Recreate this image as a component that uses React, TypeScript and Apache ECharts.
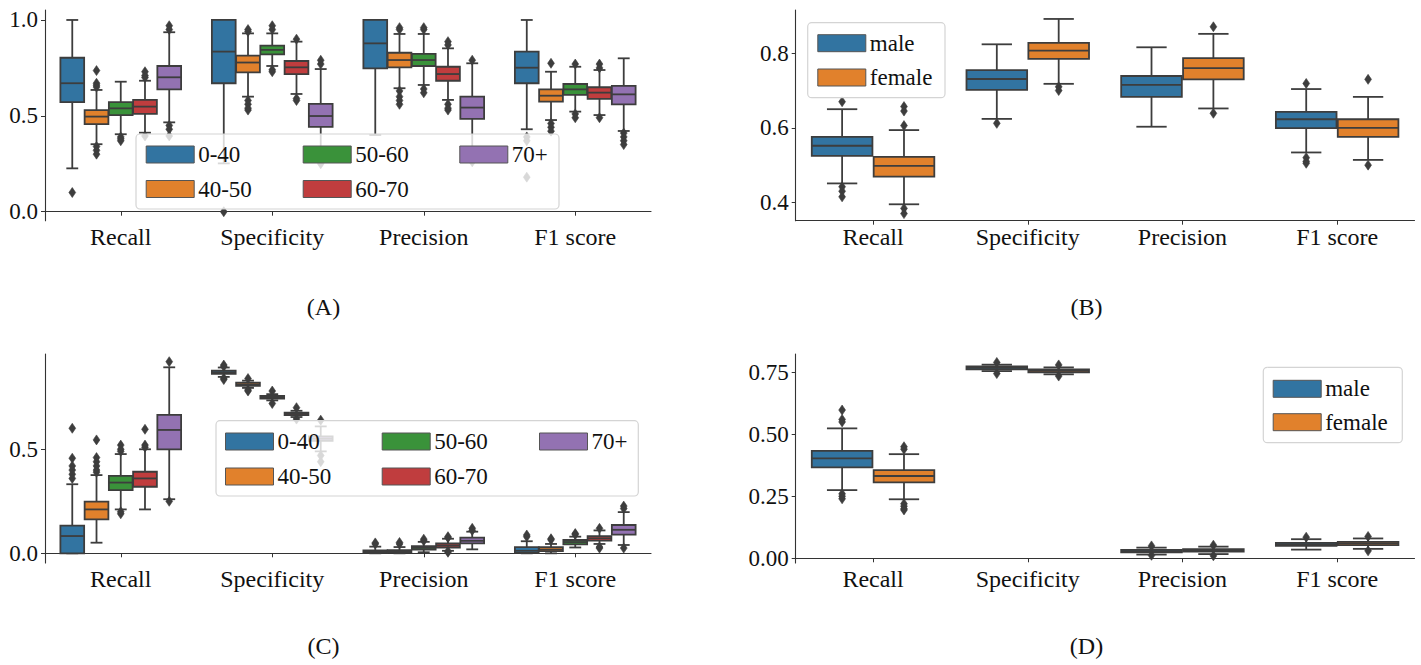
import React, { useEffect, useRef } from "react";
import * as echarts from "echarts";

const CATS = ["Recall", "Specificity", "Precision", "F1 score"];
const AGE = ["0-40", "40-50", "50-60", "60-70", "70+"];
const SEX = ["male", "female"];
const AGE_COLORS = ["#3274a1", "#e1812c", "#3a923a", "#c03d3e", "#9372b2"];
const SEX_COLORS = ["#3274a1", "#e1812c"];

// stats per category: [whiskerLow, q1, median, q3, whiskerHigh]
// Panel A (age groups)
const A_040 = [[0.226, 0.572, 0.67, 0.803, 1.0], [0.252, 0.67, 0.835, 1.0, 1.0], [0.4, 0.748, 0.878, 1.0, 1.0], [0.43, 0.67, 0.751, 0.835, 1.0]];
const A_040_OUT = [[0.1], [0.0], [], [0.39, 0.37, 0.18]];
const A_4050 = [[0.352, 0.457, 0.496, 0.53, 0.635], [0.6, 0.727, 0.778, 0.814, 0.93], [0.644, 0.753, 0.791, 0.829, 0.927], [0.478, 0.574, 0.605, 0.638, 0.73]];
const A_4050_OUT = [[0.736, 0.67, 0.66, 0.65, 0.34, 0.32, 0.3], [0.95, 0.94, 0.58, 0.56, 0.54, 0.53], [0.96, 0.95, 0.63, 0.6, 0.58, 0.56], [0.774, 0.46, 0.44, 0.42]];
const A_5060 = [[0.404, 0.504, 0.539, 0.571, 0.678], [0.76, 0.821, 0.844, 0.866, 0.93], [0.661, 0.76, 0.791, 0.823, 0.927], [0.522, 0.609, 0.638, 0.666, 0.756]];
const A_5060_OUT = [[0.39, 0.38, 0.37], [0.97, 0.95, 0.74, 0.73], [0.96, 0.95, 0.64, 0.62], [0.77, 0.51, 0.49]];
const A_6070 = [[0.412, 0.51, 0.548, 0.583, 0.683], [0.614, 0.718, 0.753, 0.786, 0.887], [0.583, 0.683, 0.718, 0.756, 0.852], [0.504, 0.588, 0.621, 0.649, 0.739]];
const A_6070_OUT = [[0.73, 0.71, 0.7, 0.395], [0.9, 0.59, 0.58], [0.887, 0.87, 0.56, 0.54, 0.53], [0.77, 0.75, 0.49]];
const A_70 = [[0.466, 0.638, 0.701, 0.76, 0.936], [0.29, 0.442, 0.499, 0.562, 0.744], [0.33, 0.484, 0.543, 0.6, 0.774], [0.421, 0.56, 0.612, 0.656, 0.8]];
const A_70_OUT = [[0.97, 0.95, 0.45, 0.43, 0.395], [0.79, 0.77, 0.26, 0.25], [0.79, 0.26], [0.41, 0.39, 0.37, 0.35]];

// Panel B (sex)
const B_M = [[0.451, 0.525, 0.552, 0.576, 0.65], [0.624, 0.702, 0.731, 0.755, 0.824], [0.603, 0.683, 0.715, 0.739, 0.816], [0.534, 0.599, 0.623, 0.643, 0.704]];
const B_M_OUT = [[0.67, 0.442, 0.43, 0.415], [0.612], [], [0.719, 0.52, 0.51, 0.505]];
const B_F = [[0.395, 0.469, 0.498, 0.522, 0.594], [0.718, 0.785, 0.807, 0.828, 0.892], [0.652, 0.73, 0.76, 0.787, 0.852], [0.514, 0.576, 0.6, 0.623, 0.683]];
const B_F_OUT = [[0.657, 0.645, 0.606, 0.384, 0.37], [0.71, 0.7], [0.871, 0.639], [0.73, 0.5]];

// Panel C (age groups)
const C_040 = [[0.0, 0.0, 0.083, 0.133, 0.332], [0.848, 0.862, 0.87, 0.878, 0.893], [0.0, 0.003, 0.008, 0.014, 0.032], [0.0, 0.002, 0.012, 0.03, 0.058]];
const C_040_OUT = [[0.601, 0.457, 0.42, 0.4, 0.38, 0.36], [0.905, 0.898, 0.842, 0.835], [0.045, 0.05], [0.088, 0.08]];
const C_4050 = [[0.051, 0.163, 0.211, 0.248, 0.376], [0.795, 0.805, 0.812, 0.82, 0.83], [0.0, 0.004, 0.009, 0.015, 0.03], [0.0, 0.01, 0.018, 0.03, 0.045]];
const C_4050_OUT = [[0.545, 0.46, 0.44, 0.42, 0.4, 0.39], [0.84, 0.785, 0.78], [0.045, 0.052], [0.065, 0.07]];
const C_5060 = [[0.211, 0.304, 0.34, 0.372, 0.477], [0.735, 0.744, 0.75, 0.756, 0.765], [0.005, 0.018, 0.026, 0.034, 0.055], [0.028, 0.043, 0.054, 0.064, 0.08]];
const C_5060_OUT = [[0.52, 0.5, 0.49, 0.2, 0.19], [0.78, 0.72], [0.06, 0.068], [0.095, 0.09]];
const C_6070 = [[0.211, 0.32, 0.36, 0.392, 0.5], [0.655, 0.664, 0.67, 0.676, 0.685], [0.012, 0.028, 0.038, 0.048, 0.07], [0.045, 0.061, 0.072, 0.083, 0.11]];
const C_6070_OUT = [[0.596, 0.52, 0.51], [0.7, 0.645], [0.075, 0.08, 0.005, 0.01], [0.12, 0.025, 0.03]];
const C_70 = [[0.26, 0.5, 0.593, 0.665, 0.894], [0.49, 0.54, 0.551, 0.562, 0.61], [0.019, 0.048, 0.06, 0.075, 0.104], [0.04, 0.09, 0.113, 0.136, 0.198]];
const C_70_OUT = [[0.921, 0.25], [0.64, 0.47, 0.44], [0.12, 0.11], [0.227, 0.215, 0.025]];

// Panel D (sex)
const D_M = [[0.275, 0.367, 0.403, 0.433, 0.524], [0.755, 0.762, 0.768, 0.774, 0.781], [0.015, 0.024, 0.029, 0.034, 0.043], [0.035, 0.05, 0.056, 0.062, 0.077]];
const D_M_OUT = [[0.598, 0.56, 0.55, 0.26, 0.25, 0.24], [0.79, 0.745], [0.05, 0.012], [0.085]];
const D_F = [[0.238, 0.306, 0.332, 0.356, 0.42], [0.742, 0.75, 0.756, 0.762, 0.77], [0.017, 0.027, 0.032, 0.037, 0.047], [0.038, 0.053, 0.06, 0.066, 0.08]];
const D_F_OUT = [[0.45, 0.44, 0.22, 0.21, 0.2, 0.195], [0.78, 0.735], [0.053, 0.01], [0.088, 0.03]];

const A_TICKS = [0, 0.5, 1.0];
const B_TICKS = [0.4, 0.6, 0.8];
const C_TICKS = [0, 0.5];
const D_TICKS = [0, 0.25, 0.5, 0.75];

const FONT = "Liberation Serif";
const LC = "#3d3d3d";
const LW = 1.8;

function boxSeries(name: string, color: string, stats: number[][], outs: number[][], hue: number, nHue: number, gi: number) {
  return {
    type: "custom",
    name,
    xAxisIndex: gi,
    yAxisIndex: gi,
    itemStyle: { color },
    data: stats.map((s, i) => [i, ...s]),
    encode: { x: 0, y: [1, 2, 3, 4, 5] },
    renderItem: (params: any, api: any) => {
      const ci = api.value(0) as number;
      const band = api.size([1, 0])[0];
      const total = band * 0.8;
      const w = total / nHue;
      const c0 = api.coord([ci, 0])[0];
      const cx = c0 - total / 2 + w * (hue + 0.5);
      const bw = w * 0.98;
      const s = stats[ci];
      const Y = (v: number) => api.coord([ci, v])[1];
      const ls = { stroke: LC, lineWidth: LW };
      const children: any[] = [];
      children.push({ type: "line", shape: { x1: cx, y1: Y(s[3]), x2: cx, y2: Y(s[4]) }, style: ls });
      children.push({ type: "line", shape: { x1: cx, y1: Y(s[1]), x2: cx, y2: Y(s[0]) }, style: ls });
      children.push({ type: "line", shape: { x1: cx - bw / 4, y1: Y(s[4]), x2: cx + bw / 4, y2: Y(s[4]) }, style: ls });
      children.push({ type: "line", shape: { x1: cx - bw / 4, y1: Y(s[0]), x2: cx + bw / 4, y2: Y(s[0]) }, style: ls });
      children.push({
        type: "rect",
        shape: { x: cx - bw / 2, y: Y(s[3]), width: bw, height: Y(s[1]) - Y(s[3]) },
        style: { fill: color, stroke: LC, lineWidth: LW },
      });
      children.push({ type: "line", shape: { x1: cx - bw / 2, y1: Y(s[2]), x2: cx + bw / 2, y2: Y(s[2]) }, style: ls });
      for (const o of outs[ci]) {
        const oy = Y(o);
        children.push({
          type: "polygon",
          shape: { points: [[cx, oy - 5], [cx + 3.4, oy], [cx, oy + 5], [cx - 3.4, oy]] },
          style: { fill: LC, stroke: LC, lineWidth: 0.6 },
        });
      }
      return { type: "group", children };
    },
  };
}

const GRIDS = [
  { left: 45, top: 10, width: 606, height: 210.7 },
  { left: 795.7, top: 10, width: 618.8, height: 210.7 },
  { left: 45, top: 354, width: 606, height: 209 },
  { left: 795.7, top: 354, width: 618.8, height: 209 },
];
const Y_RANGE = [
  [-0.047, 1.052],
  [0.351, 0.916],
  [-0.0466, 0.958],
  [-0.019, 0.824],
];
const Y_TICKS = [A_TICKS, B_TICKS, C_TICKS, D_TICKS];
const Y_DEC = [1, 1, 1, 2];

function legendItem(name: string, left: number, top: number) {
  return {
    data: [{ name, icon: "rect" }],
    left,
    top,
    orient: "horizontal",
    padding: 0,
    itemGap: 0,
    itemWidth: 48,
    itemHeight: 17,
    selectedMode: false,
    z: 10,
    itemStyle: { borderColor: "#555", borderWidth: 1 },
    textStyle: { fontFamily: FONT, fontSize: 23, color: "#111", lineHeight: 17, padding: [0, 0, 0, -1] },
  };
}

function frame(x: number, y: number, w: number, h: number) {
  return {
    type: "rect",
    z: 3,
    shape: { x, y, width: w, height: h, r: 4 },
    style: { fill: "rgba(255,255,255,0.8)", stroke: "#d4d4d4", lineWidth: 1.2 },
  };
}

function subtitle(t: string, x: number, y: number) {
  return {
    type: "text",
    z: 3,
    x,
    y,
    style: { text: t, fill: "#111", fontFamily: FONT, fontSize: 24, align: "center", verticalAlign: "middle", textAlign: "center", textVerticalAlign: "middle" },
  };
}

export default function App() {
  const ref = useRef<HTMLDivElement>(null);
  useEffect(() => {
    if (!ref.current) return;
    const chart = echarts.init(ref.current, undefined, { renderer: "svg" });
    const axisLine = { show: true, lineStyle: { color: "#333", width: 1.1 } };
    const xAxis = GRIDS.map((_, i) => ({
      type: "category",
      gridIndex: i,
      data: CATS,
      axisLine,
      axisTick: { show: true, alignWithLabel: true, length: 4, lineStyle: { color: "#333", width: 1 } },
      axisLabel: { interval: 0, fontFamily: FONT, fontSize: 24, color: "#111", margin: 4 },
      splitLine: { show: false },
    }));
    const yAxis = GRIDS.map((_, i) => ({
      type: "value",
      gridIndex: i,
      min: Y_RANGE[i][0],
      max: Y_RANGE[i][1],
      axisLine,
      splitLine: { show: false },
      axisTick: { show: true, length: 4, customValues: Y_TICKS[i], lineStyle: { color: "#333", width: 1 } },
      axisLabel: {
        customValues: Y_TICKS[i],
        fontFamily: FONT,
        fontSize: 23,
        color: "#111",
        margin: 7,
        formatter: (v: number) => v.toFixed(Y_DEC[i]),
      },
    }));
    const series: any[] = [];
    const aStats = [A_040, A_4050, A_5060, A_6070, A_70];
    const aOuts = [A_040_OUT, A_4050_OUT, A_5060_OUT, A_6070_OUT, A_70_OUT];
    const cStats = [C_040, C_4050, C_5060, C_6070, C_70];
    const cOuts = [C_040_OUT, C_4050_OUT, C_5060_OUT, C_6070_OUT, C_70_OUT];
    AGE.forEach((n, h) => series.push(boxSeries(n, AGE_COLORS[h], aStats[h], aOuts[h], h, 5, 0)));
    AGE.forEach((n, h) => series.push(boxSeries(n, AGE_COLORS[h], cStats[h], cOuts[h], h, 5, 2)));
    const bStats = [B_M, B_F];
    const bOuts = [B_M_OUT, B_F_OUT];
    const dStats = [D_M, D_F];
    const dOuts = [D_M_OUT, D_F_OUT];
    SEX.forEach((n, h) => series.push(boxSeries(n, SEX_COLORS[h], bStats[h], bOuts[h], h, 2, 1)));
    SEX.forEach((n, h) => series.push(boxSeries(n, SEX_COLORS[h], dStats[h], dOuts[h], h, 2, 3)));

    const legend = [
      legendItem("0-40", 145.7, 143),
      legendItem("40-50", 145.7, 177.5),
      legendItem("50-60", 302.7, 143),
      legendItem("60-70", 302.7, 177.5),
      legendItem("70+", 459.3, 143),
      legendItem("male", 817.3, 31.7),
      legendItem("female", 817.3, 66),
      legendItem("0-40", 225, 430),
      legendItem("40-50", 225, 465),
      legendItem("50-60", 381.7, 430),
      legendItem("60-70", 381.7, 465),
      legendItem("70+", 539, 430),
      legendItem("male", 1272.7, 377.3),
      legendItem("female", 1272.7, 410.7),
    ];

    chart.setOption({
      animation: false,
      backgroundColor: "#ffffff",
      textStyle: { fontFamily: FONT },
      grid: GRIDS.map((g) => ({ ...g, containLabel: false })),
      xAxis,
      yAxis,
      series,
      legend,
      graphic: {
        elements: [
          frame(136, 134, 423, 75),
          frame(807.7, 22.7, 137.3, 75),
          frame(216, 420.7, 422.3, 75.3),
          frame(1263.3, 367.3, 139, 75.4),
          subtitle("(A)", 323.5, 307),
          subtitle("(B)", 1086.5, 307),
          subtitle("(C)", 323.5, 646),
          subtitle("(D)", 1086.5, 646),
        ],
      },
    });
    return () => chart.dispose();
  }, []);
  return <div ref={ref} style={{ position: "absolute", left: 0, top: 0, width: 1421, height: 665 }} />;
}
